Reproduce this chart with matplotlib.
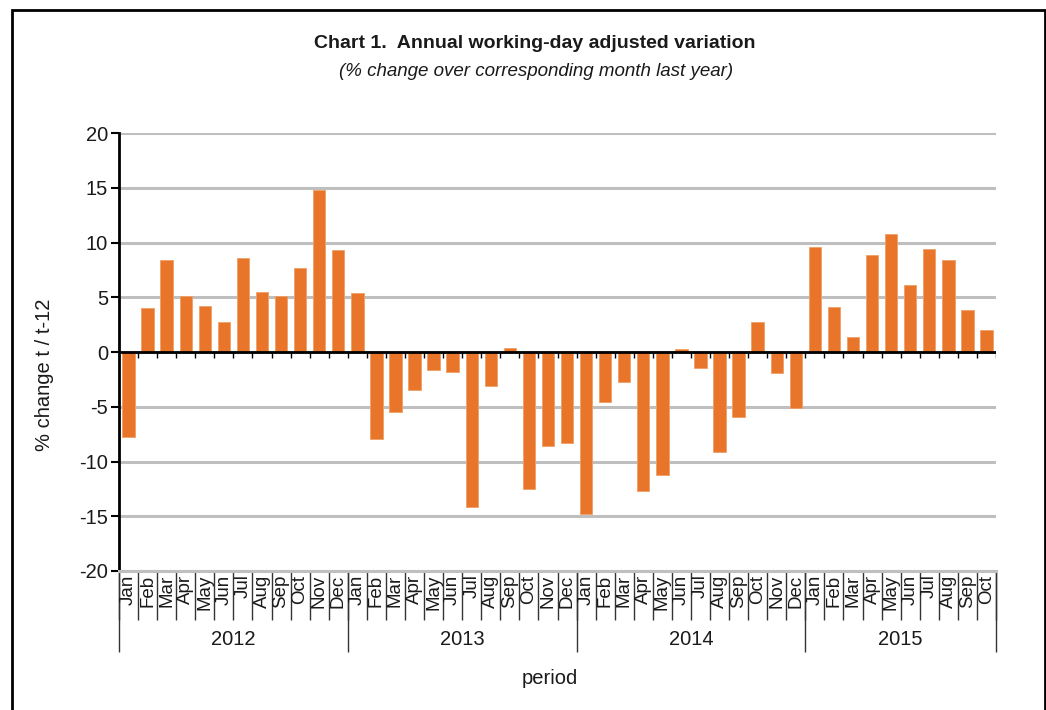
import matplotlib

matplotlib.use("Agg")
import matplotlib.pyplot as plt
import numpy as np
from matplotlib.patches import Rectangle

# ---- data ----
years = ["2012", "2013", "2014", "2015"]
months = ["Jan", "Feb", "Mar", "Apr", "May", "Jun",
          "Jul", "Aug", "Sep", "Oct", "Nov", "Dec"]
months_per_year = [12, 12, 12, 10]

values_2012 = [-7.8, 4.0, 8.4, 5.1, 4.2, 2.7, 8.6, 5.5, 5.1, 7.7, 14.8, 9.3]
values_2013 = [5.4, -7.9, -5.5, -3.5, -1.6, -1.8, -14.2, -3.1, 0.4, -12.5, -8.6, -8.3]
values_2014 = [-14.8, -4.6, -2.7, -12.7, -11.2, 0.3, -1.5, -9.1, -5.9, 2.7, -1.9, -5.1]
values_2015 = [9.6, 4.1, 1.4, 8.9, 10.8, 6.1, 9.4, 8.4, 3.8, 2.0]

yticks = [-20, -15, -10, -5, 0, 5, 10, 15, 20]

values = values_2012 + values_2013 + values_2014 + values_2015
month_labels = [m for n in months_per_year for m in months[:n]]

plt.rcParams.update({
    "font.family": ["Liberation Sans", "DejaVu Sans"],
})
narrow = ["Liberation Sans Narrow", "Liberation Sans", "DejaVu Sans"]

W, H = 1046, 710
fig = plt.figure(figsize=(W / 100, H / 100), dpi=100)
ax = fig.add_axes([119 / W, 1 - 571 / H, 877 / W, 438 / H])

x = np.arange(len(values))
grid_color = "#bfbfbf"

ax.set_axisbelow(True)
ax.yaxis.grid(True, color=grid_color, linewidth=2.2)
ax.bar(x, values, width=0.65, color="#e9752a", edgecolor="#f0a066",
       linewidth=0.6, zorder=3)

ax.set_xlim(-0.5, len(values) - 0.5)
ax.set_ylim(-20, 20)
ax.set_yticks(yticks)
ax.set_yticklabels([str(t) for t in yticks], fontsize=14.5, color="#1a1a1a")
ax.tick_params(axis="y", direction="out", length=6, width=1.5, pad=2)
ax.set_xticks([])

for side in ("top", "right"):
    ax.spines[side].set_visible(False)
ax.spines["left"].set_linewidth(2)
ax.spines["bottom"].set_color(grid_color)
ax.spines["bottom"].set_linewidth(2.2)

# zero line with small ticks between categories
bounds = np.arange(len(values) + 1) - 0.5
ax.axhline(0, color="black", linewidth=2, zorder=4)
ax.vlines(bounds[1:], -0.55, 0, color="black", linewidth=1, zorder=4)

# multi-level category axis
trans = ax.get_xaxis_transform()
for xi, lab in zip(x, month_labels):
    ax.text(xi, -0.008, lab, transform=trans, rotation=90, ha="center",
            va="top", fontsize=13.5, color="#1a1a1a")
ax.vlines(bounds, -0.112, 0, transform=trans, color="#333333",
          linewidth=1, clip_on=False)

edges = np.concatenate([[0], np.cumsum(months_per_year)]) - 0.5
ax.vlines(edges, -0.185, 0, transform=trans, color="#333333",
          linewidth=1, clip_on=False)
for yr, a, b in zip(years, edges[:-1], edges[1:]):
    ax.text((a + b) / 2, -0.157, yr, transform=trans, ha="center",
            va="center", fontsize=14.5, color="#1a1a1a")

fig.text(550 / W, 1 - 679 / H, "period", ha="center", va="center",
         fontsize=14.5, color="#1a1a1a")
fig.text(45 / W, 1 - 375 / H, "% change t / t-12", rotation=90,
         ha="center", va="center", fontsize=14.5, color="#1a1a1a")

fig.text(535 / W, 1 - 44 / H, "Chart 1.  Annual working-day adjusted variation",
         ha="center", va="center", fontsize=14, fontweight="bold",
         family=narrow, color="#1a1a1a")
fig.text(536 / W, 1 - 72 / H, "(% change over corresponding month last year)",
         ha="center", va="center", fontsize=13.5, style="italic",
         family=narrow, color="#1a1a1a")

# outer frame (bottom edge lies below the image)
fig.patches.append(Rectangle((12 / W, -0.05), (1045 - 12) / W, 0.05 + 1 - 9.5 / H,
                             transform=fig.transFigure, fill=False,
                             edgecolor="black", linewidth=2))

fig.savefig("out.png", dpi=100)
